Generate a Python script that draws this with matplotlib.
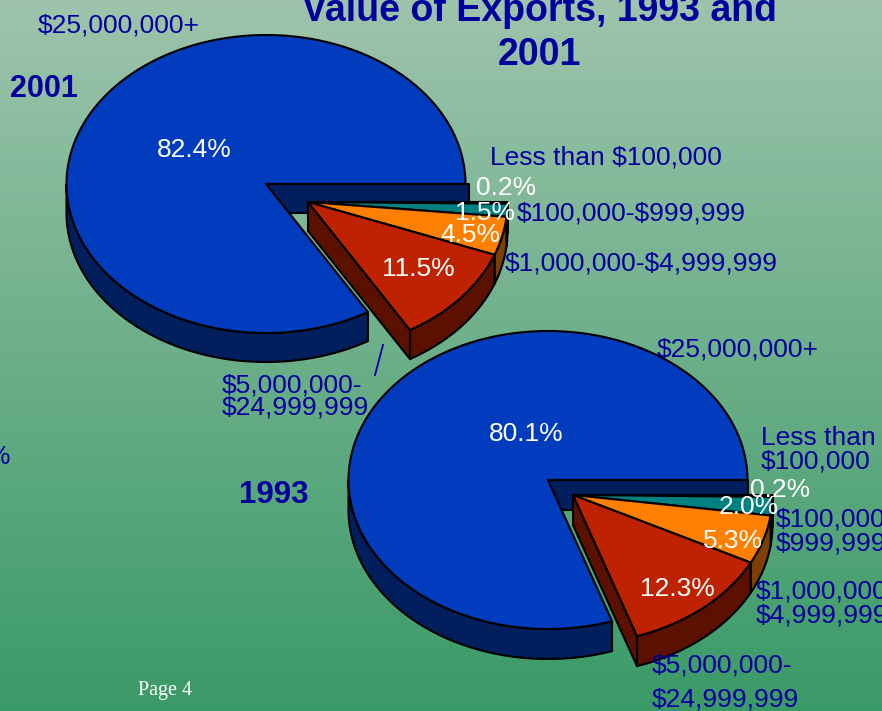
import numpy as np
import matplotlib
matplotlib.use('Agg')
import matplotlib.pyplot as plt
from matplotlib.patches import Polygon

# shares printed on the chart, in drawing order clockwise from 3 o'clock
labels_2001 = ['0.2%', '1.5%', '4.5%', '11.5%', '82.4%']
labels_1993 = ['0.2%', '2.0%', '5.3%', '12.3%', '80.1%']
shares_2001 = [0.2, 1.5, 4.5, 11.5]
shares_1993 = [0.2, 2.0, 5.3, 12.3]

title_lines = ['Value of Exports, 1993 and', '2001']
cat_25m = '$25,000,000+'
cat_100k = 'Less than $100,000'
cat_999k = '$100,000-$999,999'
cat_4m = '$1,000,000-$4,999,999'

top_colors = ['#00004c', '#008080', '#ff7f00', '#bf2200']
wall_colors = ['#00004c', '#004040', '#7f3f00', '#5c1100']
BLUE = '#003cbd'
BLUE_DARK = '#001f5c'
NAVY = '#00009c'
RX, RY = 199.5, 149

fig = plt.figure(figsize=(8.82, 7.11), dpi=100)
ax = fig.add_axes([0, 0, 1, 1])
ax.set_xlim(0, 882)
ax.set_ylim(711, 0)
ax.axis('off')

# background gradient
g_top = np.array([158, 196, 172]) / 255
g_bot = np.array([58, 154, 103]) / 255
t = np.linspace(0, 1, 256)[:, None, None]
ax.imshow(g_top + (g_bot - g_top) * t, extent=[0, 882, 711, 0], aspect='auto', zorder=0)


def arc(cx, cy, a0, a1):
    a = np.radians(np.linspace(a0, a1, 200))
    return np.column_stack([cx + RX * np.cos(a), cy - RY * np.sin(a)])


def draw_pie(cx, cy, shift, depth, shares, sweep=1.0, band_extra=0):
    edge = dict(edgecolor='black', linewidth=1.5, joinstyle='round')
    down = np.array([0, depth])
    cut = sum(shares) * 3.6 * sweep

    # wall under the start edge of the big slice
    band = np.array([[cx, cy], [cx + RX + band_extra, cy], [cx + RX + band_extra, cy + depth], [cx, cy + depth]])
    ax.add_patch(Polygon(band, facecolor=BLUE_DARK, zorder=2, **edge))

    # big slice, outer wall then top
    rim = arc(cx, cy, 180, 360 - cut)
    ax.add_patch(Polygon(np.vstack([rim, (rim + down)[::-1]]), facecolor=BLUE_DARK, zorder=3, **edge))
    top = np.vstack([[cx, cy], arc(cx, cy, 0, 360 - cut)])
    ax.add_patch(Polygon(top, facecolor=BLUE, zorder=4, **edge))

    # pulled out slices
    ox, oy = cx + shift[0], cy + shift[1]
    apex = np.array([ox, oy])
    tip = arc(ox, oy, -cut, -cut)[0]
    side = np.array([apex, apex + down, tip + down, tip])
    ax.add_patch(Polygon(side, facecolor=wall_colors[3], zorder=5, **edge))
    start = 0.0
    for share, c_top, c_wall in zip(shares, top_colors, wall_colors):
        end = start - share * 3.6 * sweep
        rim = arc(ox, oy, start, end)
        ax.add_patch(Polygon(np.vstack([rim, (rim + down)[::-1]]), facecolor=c_wall, zorder=5, **edge))
        ax.add_patch(Polygon(np.vstack([apex, rim]), facecolor=c_top, zorder=6, **edge))
        start = end


draw_pie(266, 184, (42, 18), 29, shares_2001, sweep=0.93, band_extra=3)
draw_pie(548, 480, (25, 15), 30, shares_1993)


def put(x, y, s, color=NAVY, size=19, ha='left', **kw):
    ax.text(x, y + 2, s, color=color, fontsize=size, ha=ha, va='center', parse_math=False,
            family='Liberation Sans', zorder=10, **kw)


# title and year headings
put(539, 9, title_lines[0], size=27, ha='center', weight='bold')
put(539, 53, title_lines[1], size=27, ha='center', weight='bold')
put(44, 87, '2001', size=22, ha='center', weight='bold')
put(274, 493, '1993', size=22.5, ha='center', weight='bold')

# 2001 category labels
put(38, 23, cat_25m)
put(490, 155, cat_100k)
put(517, 212, cat_999k)
put(505, 262, cat_4m)
put(222, 383, '$5,000,000-')
put(222, 405, '$24,999,999')

# 1993 category labels
put(657, 348, cat_25m)
put(761, 436, 'Less than')
put(761, 459, '$100,000')
put(776, 517, '$100,000-')
put(776, 541, '$999,999')
put(756, 590, '$1,000,000-')
put(756, 613, '$4,999,999')
put(652, 663, '$5,000,000-')
put(652, 697, '$24,999,999')
put(10, 455, '%', ha='right')

# percentages
pos_2001 = [(506, 186), (485, 211), (470, 233), (418, 267), (194, 148)]
pos_1993 = [(780, 488), (749, 505), (733, 539), (677, 587), (526, 432)]
for (x, y), s in zip(pos_2001, labels_2001):
    put(x, y, s, color='white', ha='center')
for (x, y), s in zip(pos_1993, labels_1993):
    put(x, y, s, color='white', ha='center')

# leader line of the 2001 $5,000,000 label
ax.plot([375, 383], [375, 345], color=NAVY, lw=1.3, zorder=9)

ax.text(165, 689 + 2, 'Page 4', color='white', fontsize=14.5, ha='center', va='center',
        family='Liberation Serif', zorder=10)

fig.savefig('out.png', dpi=100)
